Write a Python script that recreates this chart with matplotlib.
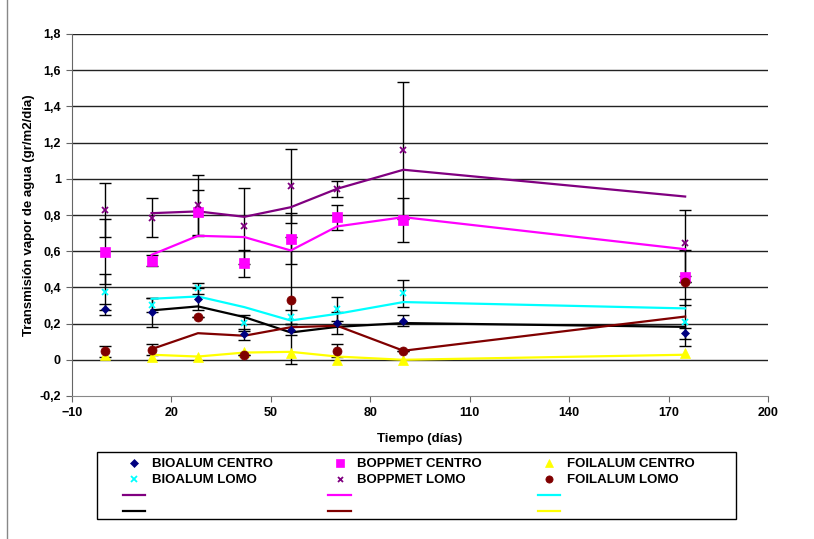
"""Transmision de vapor de agua vs tiempo para seis envases."""

import matplotlib

matplotlib.use("Agg")
import matplotlib.pyplot as plt
from matplotlib.lines import Line2D
from matplotlib.patches import Rectangle
from matplotlib.ticker import FuncFormatter

plt.rcParams["font.family"] = ["Liberation Sans", "DejaVu Sans"]
plt.rcParams["font.weight"] = "bold"

DIAS = [0, 14, 28, 42, 56, 70, 90, 175]
DIAS_LINEA = [14, 28, 42, 56, 70, 90, 175]

# puntos medidos
bioalum_centro = [0.28, 0.263, 0.337, 0.142, 0.166, 0.203, 0.217, 0.147]
bioalum_centro_err = [0.03, 0.08, 0.06, 0.03, 0.03, 0.06, 0.03, 0.03]
bioalum_lomo = [0.374, 0.304, 0.396, 0.203, 0.236, 0.28, 0.368, 0.208]
bioalum_lomo_err = [0.1, 0.04, 0.03, 0.045, 0.04, 0.065, 0.075, 0.13]
boppmet_centro = [0.598, 0.547, 0.814, 0.534, 0.67, 0.788, 0.773, 0.455]
boppmet_centro_err = [0.18, 0.03, 0.125, 0.075, 0.14, 0.07, 0.12, 0.15]
boppmet_lomo = [0.829, 0.786, 0.853, 0.74, 0.961, 0.945, 1.157, 0.645]
boppmet_lomo_err = [0.15, 0.11, 0.17, 0.21, 0.205, 0.045, 0.38, 0.18]
foilalum_centro = [0.028, 0.013, 0.015, 0.045, 0.035, 0.0, 0.0, 0.04]
foilalum_lomo = [0.046, 0.055, 0.236, 0.028, 0.328, 0.05, 0.05, 0.431]
foilalum_lomo_err = [0.03, 0.03, 0.0, 0.0, 0.35, 0.035, 0.0, 0.0]

# lineas de tendencia
linea_morada = [0.81, 0.82, 0.79, 0.843, 0.945, 1.05, 0.902]
linea_magenta = [0.58, 0.685, 0.678, 0.604, 0.737, 0.788, 0.611]
linea_cian = [0.337, 0.35, 0.291, 0.217, 0.254, 0.319, 0.284]
linea_negra = [0.273, 0.295, 0.236, 0.151, 0.182, 0.203, 0.182]
linea_granate = [0.059, 0.147, 0.133, 0.18, 0.188, 0.05, 0.239]
linea_amarilla = [0.028, 0.018, 0.04, 0.044, 0.018, 0.0, 0.028]

Y_TICKS = [-0.2, 0.0, 0.2, 0.4, 0.6, 0.8, 1.0, 1.2, 1.4, 1.6, 1.8]
X_TICKS = [-10, 20, 50, 80, 110, 140, 170, 200]


def _coma(v, _pos):
    s = f"{v:.1f}".replace(".", ",")
    if s.endswith(",0"):
        s = s[:-2]
    if s == "-0":
        s = "0"
    return s


def main() -> None:
    W, H = 814, 539
    fig = plt.figure(figsize=(W / 100, H / 100), dpi=100)
    ax = fig.add_axes([72 / W, 1 - 396 / H, 696 / W, 362 / H])

    ax.set_xlim(-10, 200)
    ax.set_ylim(-0.2, 1.8)
    ax.set_yticks(Y_TICKS)
    ax.set_xticks(X_TICKS)
    ax.yaxis.set_major_formatter(FuncFormatter(_coma))
    for y in Y_TICKS[1:]:
        ax.axhline(y, color="#222222", lw=1.0, zorder=1)

    for side in ("top", "right"):
        ax.spines[side].set_visible(False)
    ax.spines["left"].set_color("#666666")
    ax.spines["bottom"].set_color("#888888")
    ax.tick_params(axis="both", labelsize=9, length=4, color="#666666", pad=4)

    err_kw = dict(fmt="none", ecolor="black", elinewidth=1.0, capsize=4, capthick=1.0, zorder=2)
    ax.errorbar(DIAS, boppmet_lomo, yerr=boppmet_lomo_err, **err_kw)
    ax.errorbar(DIAS, boppmet_centro, yerr=boppmet_centro_err, **err_kw)
    ax.errorbar(DIAS, bioalum_lomo, yerr=bioalum_lomo_err, **err_kw)
    ax.errorbar(DIAS, bioalum_centro, yerr=bioalum_centro_err, **err_kw)
    ax.errorbar(DIAS, foilalum_lomo, yerr=foilalum_lomo_err, **err_kw)

    lineas = [
        (linea_morada, "#800080"),
        (linea_negra, "black"),
        (linea_magenta, "#ff00ff"),
        (linea_granate, "#800000"),
        (linea_cian, "#00ffff"),
        (linea_amarilla, "#ffff00"),
    ]
    h_lineas = []
    for vals, col in lineas:
        (h,) = ax.plot(DIAS_LINEA, vals, color=col, lw=1.6, zorder=3)
        h_lineas.append(h)

    puntos = [
        (bioalum_centro, "D", "#000080", 4.5, "BIOALUM CENTRO"),
        (bioalum_lomo, "x", "#00ffff", 5.0, "BIOALUM LOMO"),
        (boppmet_centro, "s", "#ff00ff", 6.5, "BOPPMET CENTRO"),
        (boppmet_lomo, "x", "#800080", 4.5, "BOPPMET LOMO"),
        (foilalum_centro, "^", "#ffff00", 6.5, "FOILALUM CENTRO"),
        (foilalum_lomo, "o", "#800000", 6.5, "FOILALUM LOMO"),
    ]
    h_puntos = []
    for vals, mk, col, ms, lab in puntos:
        (h,) = ax.plot(DIAS, vals, ls="none", marker=mk, color=col, ms=ms,
                       mew=1.3 if mk == "x" else 0.5, zorder=4, label=lab)
        h_puntos.append(h)

    ax.set_xlabel("Tiempo (días)", fontsize=9.5, fontweight="bold", labelpad=10)
    ax.set_ylabel("Transmisión vapor de agua (gr/m2/día)", fontsize=9.5,
                  fontweight="bold", labelpad=3)

    # orden por columnas: 3 columnas x 4 filas
    handles = [
        h_puntos[0], h_puntos[1], h_lineas[0], h_lineas[1],
        h_puntos[2], h_puntos[3], h_lineas[2], h_lineas[3],
        h_puntos[4], h_puntos[5], h_lineas[4], h_lineas[5],
    ]
    labels = [
        "BIOALUM CENTRO", "BIOALUM LOMO", "", "",
        "BOPPMET CENTRO", "BOPPMET LOMO", "", "",
        "FOILALUM CENTRO", "FOILALUM LOMO", "", "",
    ]
    fig.legend(handles, labels, ncol=3, loc="upper left",
               bbox_to_anchor=(123 / W, 1 - 458 / H),
               fontsize=9.5, frameon=False, markerscale=0.8,
               handlelength=1.7, handletextpad=0.5, labelspacing=0.3,
               columnspacing=4.2, borderaxespad=0.0, borderpad=0.0)
    fig.add_artist(Rectangle((97 / W, 1 - 519 / H), 639 / W, 67 / H,
                             transform=fig.transFigure, fill=False,
                             edgecolor="black", lw=1.0))

    fig.add_artist(Line2D([7 / W, 7 / W], [0.0, 1.0], color="#888888", lw=1.0))

    fig.savefig("out.png", dpi=100)
    plt.close(fig)


if __name__ == "__main__":
    main()
